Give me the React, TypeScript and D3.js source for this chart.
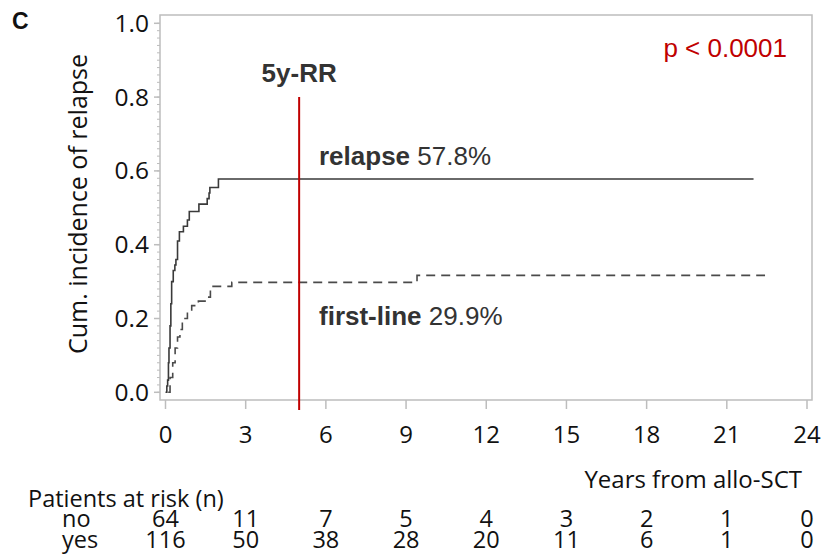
import { useEffect, useRef } from "react";
import * as d3 from "d3";

// Cumulative incidence, relapse group (years, value)
const relapseTimes = [0, 0.05, 0.08, 0.11, 0.13, 0.17, 0.2, 0.23, 0.29, 0.35, 0.39, 0.45, 0.52, 0.67, 0.82, 0.89, 1.25, 1.56, 1.63, 1.66, 1.98, 22];
const relapseValues = [0, 0.017, 0.033, 0.08, 0.12, 0.18, 0.24, 0.3, 0.33, 0.345, 0.36, 0.41, 0.435, 0.45, 0.467, 0.49, 0.51, 0.525, 0.54, 0.555, 0.578, 0.578];

// Cumulative incidence, first-line group
const firstLineTimes = [0.1, 0.17, 0.27, 0.36, 0.45, 0.54, 0.63, 0.73, 0.82, 0.98, 1.23, 1.48, 1.68, 2.48, 9.41, 22.43];
const firstLineValues = [0, 0.04, 0.08, 0.12, 0.15, 0.17, 0.19, 0.2, 0.217, 0.235, 0.247, 0.258, 0.287, 0.298, 0.317, 0.317];

const xTicks = [0, 3, 6, 9, 12, 15, 18, 21, 24];
const yTicks = [0, 0.2, 0.4, 0.6, 0.8, 1.0];

// Patients at risk at each x tick
const riskGroups = ["no", "yes"];
const riskNo = [64, 11, 7, 5, 4, 3, 2, 1, 0];
const riskYes = [116, 50, 38, 28, 20, 11, 6, 1, 0];

const landmarkYear = 5;
const landmarkTop = 0.8;

const WIDTH = 823;
const HEIGHT = 558;

export default function App(): JSX.Element {
    const svgRef = useRef<SVGSVGElement>(null);

    useEffect(() => {
        const svg = d3.select(svgRef.current);
        svg.selectAll("*").remove();

        const frame = { left: 160, top: 15, right: 812, bottom: 400 };
        const x = d3.scaleLinear().domain([0, 24]).range([165.5, 807]);
        const y = d3.scaleLinear().domain([0, 1]).range([392.3, 23.3]);

        const tickFont = "'Open Sans', 'Noto Sans', sans-serif";
        const annoFont = "'Liberation Sans', Arial, sans-serif";
        const gray = "#bdbdbd";

        // Frame
        svg.append("rect")
            .attr("x", frame.left)
            .attr("y", frame.top)
            .attr("width", frame.right - frame.left)
            .attr("height", frame.bottom - frame.top)
            .attr("fill", "#fff")
            .attr("stroke", gray)
            .attr("stroke-width", 1.5);

        // Y minor ticks
        const minor = d3.range(0, 1.0001, 0.02);
        svg.append("g").selectAll("line")
            .data(minor)
            .enter().append("line")
            .attr("x1", frame.left - 3)
            .attr("x2", frame.left)
            .attr("y1", d => y(d))
            .attr("y2", d => y(d))
            .attr("stroke", gray)
            .attr("stroke-width", 1);

        // Y major ticks + labels
        const yg = svg.append("g");
        yg.selectAll("line")
            .data(yTicks)
            .enter().append("line")
            .attr("x1", frame.left - 6)
            .attr("x2", frame.left)
            .attr("y1", d => y(d))
            .attr("y2", d => y(d))
            .attr("stroke", gray)
            .attr("stroke-width", 1.5);
        yg.selectAll("text")
            .data(yTicks)
            .enter().append("text")
            .attr("x", 149)
            .attr("y", d => y(d) + 8.5)
            .attr("text-anchor", "end")
            .attr("font-family", tickFont)
            .attr("font-size", 24.5)
            .attr("fill", "#111")
            .text(d => d3.format(".1f")(d));

        // X ticks + labels
        const xg = svg.append("g");
        xg.selectAll("line")
            .data(xTicks)
            .enter().append("line")
            .attr("x1", d => x(d))
            .attr("x2", d => x(d))
            .attr("y1", frame.bottom)
            .attr("y2", frame.bottom + 9)
            .attr("stroke", gray)
            .attr("stroke-width", 1.5);
        xg.selectAll("text")
            .data(xTicks)
            .enter().append("text")
            .attr("x", d => x(d))
            .attr("y", 443)
            .attr("text-anchor", "middle")
            .attr("font-family", tickFont)
            .attr("font-size", 24)
            .attr("fill", "#111")
            .text(d => d);

        // Axis titles
        svg.append("text")
            .attr("transform", "translate(87,204) rotate(-90)")
            .attr("text-anchor", "middle")
            .attr("font-family", tickFont)
            .attr("font-size", 25)
            .attr("fill", "#111")
            .text("Cum. incidence of relapse");

        svg.append("text")
            .attr("x", 802)
            .attr("y", 488)
            .attr("text-anchor", "end")
            .attr("font-family", tickFont)
            .attr("font-size", 24)
            .attr("fill", "#111")
            .text("Years from allo-SCT");

        // Curves
        const line = d3.line<[number, number]>()
            .x(d => x(d[0]))
            .y(d => y(d[1]))
            .curve(d3.curveStepAfter);

        const relapseData = relapseTimes.map((t, i) => [t, relapseValues[i]] as [number, number]);
        const firstData = firstLineTimes.map((t, i) => [t, firstLineValues[i]] as [number, number]);

        svg.append("path")
            .attr("d", line(firstData))
            .attr("fill", "none")
            .attr("stroke", "#4a4a4a")
            .attr("stroke-width", 1.6)
            .attr("stroke-dasharray", "9,6");

        svg.append("path")
            .attr("d", line(relapseData))
            .attr("fill", "none")
            .attr("stroke", "#3a3a3a")
            .attr("stroke-width", 1.6);

        // 5-year landmark
        svg.append("line")
            .attr("x1", x(landmarkYear))
            .attr("x2", x(landmarkYear))
            .attr("y1", y(landmarkTop))
            .attr("y2", frame.bottom + 10)
            .attr("stroke", "#c00000")
            .attr("stroke-width", 2);

        svg.append("text")
            .attr("x", x(landmarkYear))
            .attr("y", 82)
            .attr("text-anchor", "middle")
            .attr("font-family", annoFont)
            .attr("font-size", 26)
            .attr("font-weight", "bold")
            .attr("fill", "#333")
            .text("5y-RR");

        const relLabel = svg.append("text")
            .attr("x", 319)
            .attr("y", 165)
            .attr("font-family", annoFont)
            .attr("font-size", 26)
            .attr("fill", "#333");
        relLabel.append("tspan").attr("font-weight", "bold").text("relapse");
        relLabel.append("tspan").text(" 57.8%");

        const firstLabel = svg.append("text")
            .attr("x", 319)
            .attr("y", 325)
            .attr("font-family", annoFont)
            .attr("font-size", 26)
            .attr("fill", "#333");
        firstLabel.append("tspan").attr("font-weight", "bold").text("first-line");
        firstLabel.append("tspan").text(" 29.9%");

        svg.append("text")
            .attr("x", 787)
            .attr("y", 57)
            .attr("text-anchor", "end")
            .attr("font-family", annoFont)
            .attr("font-size", 26)
            .attr("fill", "#c00000")
            .text("p < 0.0001");

        // Panel letter
        svg.append("text")
            .attr("x", 12)
            .attr("y", 29)
            .attr("font-family", annoFont)
            .attr("font-size", 23)
            .attr("font-weight", "bold")
            .attr("fill", "#111")
            .text("C");

        // Patients at risk table
        svg.append("text")
            .attr("x", 28)
            .attr("y", 507)
            .attr("font-family", tickFont)
            .attr("font-size", 23.5)
            .attr("fill", "#111")
            .text("Patients at risk (n)");

        const rows = [riskNo, riskYes];
        const rowY = [527, 548];
        rows.forEach((row, r) => {
            svg.append("text")
                .attr("x", 62)
                .attr("y", rowY[r])
                .attr("font-family", tickFont)
                .attr("font-size", 23.5)
                .attr("fill", "#111")
                .text(riskGroups[r]);
            svg.append("g").selectAll("text")
                .data(row)
                .enter().append("text")
                .attr("x", (d, i) => x(xTicks[i]))
                .attr("y", rowY[r])
                .attr("text-anchor", "middle")
                .attr("font-family", tickFont)
                .attr("font-size", 23.5)
                .attr("fill", "#111")
                .text(d => d);
        });
    }, []);

    return (
        <svg
            ref={svgRef}
            width={WIDTH}
            height={HEIGHT}
            style={{ position: "absolute", left: 0, top: 0, background: "#fff" }}
        />
    );
}
